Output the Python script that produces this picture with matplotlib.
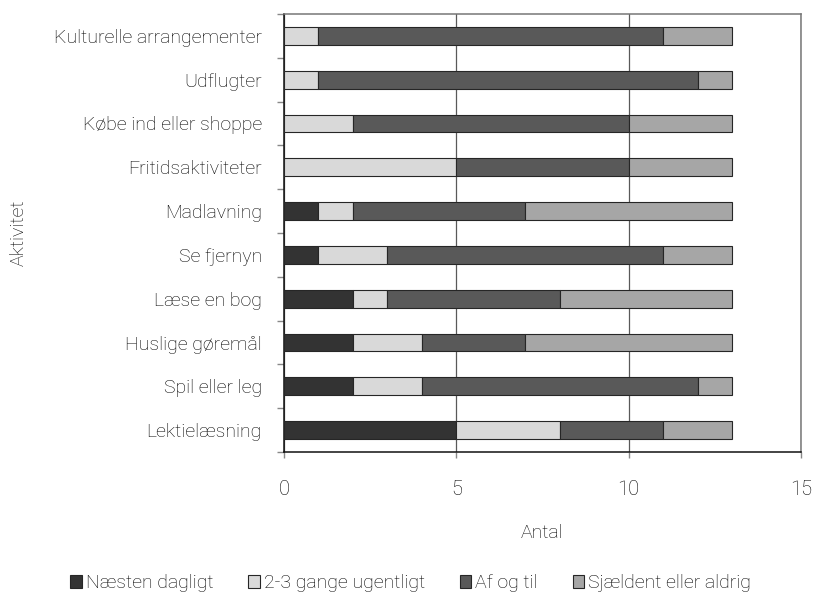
import numpy as np
import matplotlib
matplotlib.use('Agg')
import matplotlib.pyplot as plt
from matplotlib.ticker import MultipleLocator

plt.rcParams['font.family'] = ['Roboto', 'DejaVu Sans']
plt.rcParams['font.weight'] = 'light'
plt.rcParams['axes.labelweight'] = 'light'

# ------------ Data ---------------
activities = ['Lektielæsning', 'Spil eller leg', 'Huslige gøremål', 'Læse en bog',
              'Se fjernyn', 'Madlavning', 'Fritidsaktiviteter',
              'Købe ind eller shoppe', 'Udflugter', 'Kulturelle arrangementer']
series_names = ['Næsten dagligt', '2-3 gange ugentligt', 'Af og til', 'Sjældent eller aldrig']
naesten_dagligt = [5, 2, 2, 2, 1, 1, 0, 0, 0, 0]
gange_ugentligt = [3, 2, 2, 1, 2, 1, 5, 2, 1, 1]
af_og_til = [3, 8, 3, 5, 8, 5, 5, 8, 11, 10]
sjaeldent = [2, 1, 6, 5, 2, 6, 3, 3, 1, 2]
colors = ['#333333', '#d9d9d9', '#595959', '#a6a6a6']

fig = plt.figure(figsize=(8.13, 5.95), dpi=100)
ax = fig.add_axes([0.3493, 0.2403, 0.6359, 0.7362])

y = np.arange(len(activities))
left = np.zeros(len(activities))
for name, vals, col in zip(series_names,
                           [naesten_dagligt, gange_ugentligt, af_og_til, sjaeldent],
                           colors):
    ax.barh(y, vals, left=left, height=0.41, color=col, edgecolor='#262626',
            linewidth=0.8, label=name, zorder=3)
    left += np.array(vals)

ax.set_xlim(0, 15)
ax.set_ylim(-0.5, len(activities) - 0.5)
ax.xaxis.set_major_locator(MultipleLocator(5))
ax.grid(axis='x', color='#595959', linewidth=0.9, zorder=0)

ax.set_yticks(y)
ax.set_yticklabels(activities, fontsize=14)
ax.set_yticks(np.arange(-0.5, len(activities)), minor=True)
ax.tick_params(axis='y', which='major', length=0, pad=16)
ax.tick_params(axis='y', which='minor', length=5, color='#888888', width=1)
ax.tick_params(axis='x', length=4, color='#888888', width=1, labelsize=14.5, pad=16)

for s in ['top', 'right']:
    ax.spines[s].set_color('#777777')
    ax.spines[s].set_linewidth(1.1)
for s in ['left', 'bottom']:
    ax.spines[s].set_color('#111111')
    ax.spines[s].set_linewidth(1.1)

ax.set_xlabel('Antal', fontsize=14)
ax.xaxis.set_label_coords(0.5, -0.165)
ax.set_ylabel('Aktivitet', fontsize=14)
ax.yaxis.set_label_coords(-0.495, 0.5)

fig.legend(loc='lower center', bbox_to_anchor=(0.505, -0.025), ncol=4, frameon=False,
           fontsize=14, handlelength=0.6, handleheight=0.6, handletextpad=0.2,
           columnspacing=1.8)

fig.savefig('out.png', dpi=100)
